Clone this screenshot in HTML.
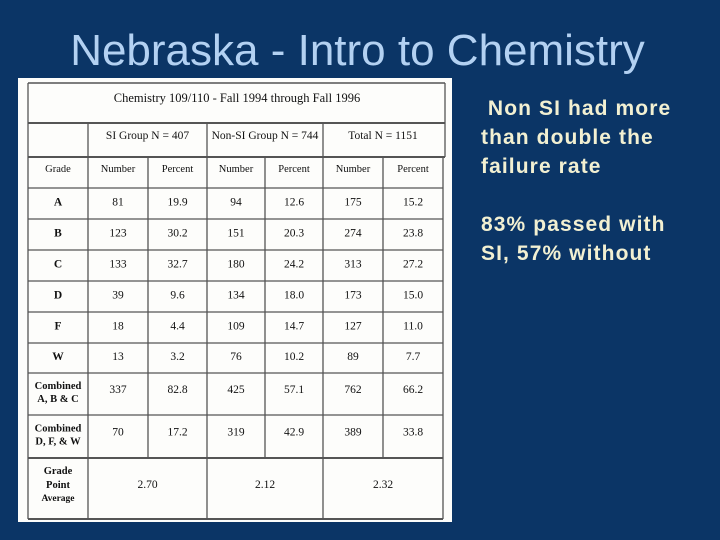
<!DOCTYPE html>
<html><head><meta charset="utf-8"><style>
html,body{margin:0;padding:0;background:#0b3566;}
#slide{position:relative;width:720px;height:540px;background:#0b3566;overflow:hidden;font-family:"Liberation Sans",sans-serif;}
#title{position:absolute;left:0;top:25px;width:715px;text-align:center;color:#b3d1f2;font-size:44px;line-height:52px;}
.bul{position:absolute;left:481px;color:#f2f0d2;font-weight:bold;font-size:21px;letter-spacing:1.1px;line-height:29px;}
</style></head><body>
<div id="slide">
<div id="title">Nebraska - Intro to Chemistry</div>
<div class="bul" style="top:94px">&nbsp;Non SI had more<br>than double the<br>failure rate</div>
<div class="bul" style="top:210px">83% passed with<br>SI, 57% without</div>
<svg id="tbl" width="720" height="540" style="position:absolute;left:0;top:0"></svg>
</div>
<script>
const grades=["A","B","C","D","F","W"];
const siNum=["81","123","133","39","18","13"];
const siPct=["19.9","30.2","32.7","9.6","4.4","3.2"];
const nonNum=["94","151","180","134","109","76"];
const nonPct=["12.6","20.3","24.2","18.0","14.7","10.2"];
const totNum=["175","274","313","173","127","89"];
const totPct=["15.2","23.8","27.2","15.0","11.0","7.7"];
const combABC=["337","82.8","425","57.1","762","66.2"];
const combDFW=["70","17.2","319","42.9","389","33.8"];
const gpa=["2.70","2.12","2.32"];
const groups=["SI Group N = 407","Non-SI Group N = 744","Total N = 1151"];
const subHeads=["Number","Percent","Number","Percent","Number","Percent"];

const svg=document.getElementById('tbl');
const NS="http://www.w3.org/2000/svg";
function mk(tag,attrs){const e=document.createElementNS(NS,tag);for(const k in attrs)e.setAttribute(k,attrs[k]);svg.appendChild(e);return e;}
function txt(x,y,s,name,opt){const t=mk('text',{x:x,y:y,'text-anchor':'middle','font-family':'"Liberation Serif",serif','font-size':(opt&&opt.fs)||11.5,fill:'#111','font-weight':(opt&&opt.bold)?'bold':'normal'});t.textContent=s;


return t;}
function line(x1,y1,x2,y2,w){const l=mk('line',{x1:x1,y1:y1,x2:x2,y2:y2,stroke:'#555','stroke-width':w||1.3});

}

const bg=mk('rect',{x:18,y:78,width:434,height:444,fill:'#fdfdfb'});



const L=28,R=445;
const colX=[L,88,148,207,265,323,383,443];
const rowY=[83,123,157,188,219,250,281,312,343,373,415,458,519];
line(L,83,R,83,1.5);line(L,123,R,123,2);line(L,83,L,123);line(R,83,R,123);
txt(237,102,"Chemistry 109/110 - Fall 1994 through Fall 1996","table-caption",{fs:12.5});
line(L,157,R,157,2);
[L,88,207,323,R].forEach(x=>line(x,123,x,157));
groups.forEach((g,i)=>txt((colX[1+2*i]+colX[3+2*i])/2,139,g,"group-header",{}));
for(let r=2;r<rowY.length;r++)line(L,rowY[r],443,rowY[r],r==11||r==12?2:1.3);
for(let c=0;c<colX.length;c++){const full=(c==0||c==1||c==3||c==5||c==7);line(colX[c],157,colX[c],full?519:458);}
const cx=i=>(colX[i]+colX[i+1])/2;
txt(cx(0),172,"Grade","grade-header",{fs:10.5});
subHeads.forEach((s,i)=>txt(cx(i+1),172,s,"sub-header",{fs:10.5}));
grades.forEach((g,r)=>{
 const y=(rowY[r+3]+rowY[r+4])/2+2;
 txt(cx(0),y,g,"grade-label",{bold:true});
 [siNum,siPct,nonNum,nonPct,totNum,totPct].forEach((arr,c)=>txt(cx(c+1),y,arr[r],"cell-value",{}));
});
[[combABC,"A, B & C"],[combDFW,"D, F, & W"]].forEach((row,k)=>{
 const y0=rowY[k+9],y1=rowY[k+10],ym=(y0+y1)/2;
 txt(cx(0),ym-5,"Combined","combined-label",{bold:true,fs:10.5});
 txt(cx(0),ym+8,row[1],"combined-label",{bold:true,fs:10.5});
 row[0].forEach((v,c)=>txt(cx(c+1),ym-1,v,"cell-value",{}));
});
txt(cx(0),474,"Grade","gpa-label",{bold:true,fs:10.5});
txt(cx(0),488,"Point","gpa-label",{bold:true,fs:10.5});
txt(cx(0),501,"Average","gpa-label",{bold:true,fs:9.5});
gpa.forEach((v,i)=>txt((colX[1+2*i]+colX[3+2*i])/2,488,v,"gpa-value",{}));
</script>
</body></html>
